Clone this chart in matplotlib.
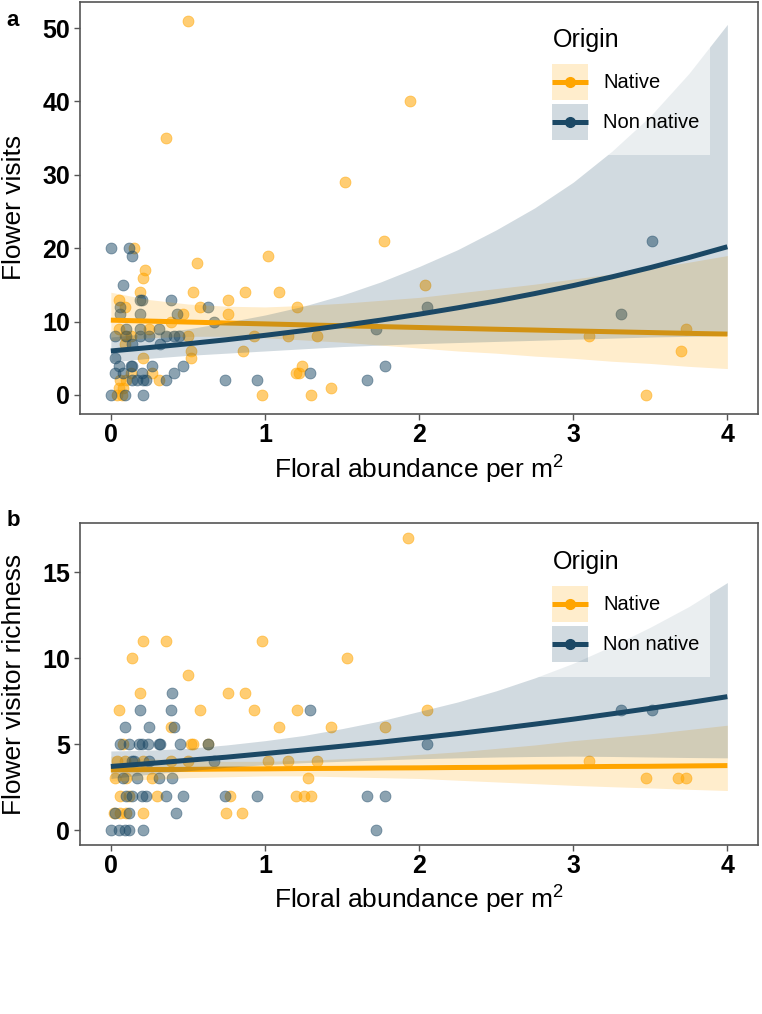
import matplotlib
matplotlib.use("Agg")
import matplotlib.pyplot as plt
from matplotlib.patches import Rectangle

plt.rcParams['font.family'] = ['Liberation Sans', 'DejaVu Sans']
plt.rcParams['mathtext.fontset'] = 'custom'
plt.rcParams['mathtext.rm'] = 'Liberation Sans'

# ---- panel a: flower visits ----
a_nat_x = [0.50, 0.36, 1.94, 1.52, 1.77, 0.15, 1.02, 0.56, 0.22, 0.21, 2.04,
           0.19, 0.53, 0.87, 1.09, 0.05, 0.76, 0.09, 0.58, 1.21, 0.47, 0.76,
           0.39, 0.05, 0.25, 3.73, 0.09, 0.13, 0.50, 0.93, 1.15, 1.34, 3.10,
           0.09, 0.52, 0.86, 3.70, 0.21, 0.52, 1.24, 0.13, 0.27, 1.20, 1.22,
           0.06, 0.10, 0.31, 0.05, 0.08, 1.43, 0.04, 0.07, 0.98, 1.30, 3.47]
a_nat_y = [51, 35, 40, 29, 21, 20, 19, 18, 17, 16, 15,
           14, 14, 14, 14, 13, 13, 12, 12, 12, 11, 11,
           10, 9, 9, 9, 8, 8, 8, 8, 8, 8, 8,
           7, 6, 6, 6, 5, 5, 4, 3, 3, 3, 3,
           2, 2, 2, 1, 1, 1, 0, 0, 0, 0, 0]
a_non_x = [0.00, 0.12, 0.14, 0.08, 3.51, 0.19, 0.20, 0.39, 0.06, 0.63, 2.05,
           0.06, 0.19, 0.43, 3.31, 0.67, 0.10, 0.19, 0.31, 1.72, 0.03, 0.10,
           0.19, 0.25, 0.36, 0.41, 0.44, 0.14, 0.32, 0.03, 0.05, 0.13, 0.14,
           0.27, 0.47, 1.78, 0.03, 0.08, 0.20, 0.41, 1.29, 0.14, 0.17, 0.21,
           0.23, 0.36, 0.74, 0.95, 1.66, 0.00, 0.09, 0.21]
a_non_y = [20, 20, 19, 15, 21, 13, 13, 13, 12, 12, 12,
           11, 11, 11, 11, 10, 9, 9, 9, 9, 8, 8,
           8, 8, 8, 8, 8, 7, 7, 5, 4, 4, 4,
           4, 4, 4, 3, 3, 3, 3, 3, 2, 2, 2,
           2, 2, 2, 2, 2, 0, 0, 0]

# fitted curves and confidence bands at x = 0, 0.25, ..., 4
fit_x = [0, 0.25, 0.5, 0.75, 1, 1.25, 1.5, 1.75, 2,
         2.25, 2.5, 2.75, 3, 3.25, 3.5, 3.75, 4]
a_nat_fit = [10.2, 10.07, 9.94, 9.81, 9.69, 9.56, 9.44, 9.32, 9.2,
             9.08, 8.96, 8.85, 8.73, 8.62, 8.51, 8.4, 8.3]
a_nat_hi = [14.0, 13.0, 12.4, 12.1, 12.0, 12.2, 12.5, 12.9, 13.3,
            13.9, 14.5, 15.1, 15.8, 16.5, 17.3, 18.1, 19.0]
a_nat_lo = [7.4, 7.8, 8.0, 8.0, 7.8, 7.5, 7.2, 6.8, 6.4,
            6.0, 5.7, 5.3, 5.0, 4.6, 4.3, 3.9, 3.6]
a_non_fit = [6.0, 6.47, 6.98, 7.53, 8.13, 8.77, 9.46, 10.2, 11.01,
             11.88, 12.81, 13.82, 14.91, 16.09, 17.36, 18.73, 20.2]
a_non_hi = [7.9, 8.4, 9.0, 9.9, 10.9, 12.1, 13.6, 15.4, 17.5,
            19.8, 22.5, 25.5, 29.0, 33.2, 38.0, 43.8, 50.5]
a_non_lo = [4.5, 5.0, 5.4, 5.7, 6.0, 6.3, 6.6, 6.8, 7.0,
            7.15, 7.3, 7.45, 7.6, 7.75, 7.9, 8.0, 8.1]

# ---- panel b: visitor richness ----
b_nat_x = [1.93, 0.21, 0.36, 0.98, 0.14, 1.53, 0.50, 0.19, 0.76, 0.87,
           0.05, 0.58, 0.93, 1.21, 2.05, 0.39, 1.09, 1.43, 1.78,
           0.08, 0.52, 0.53, 0.63, 0.04, 0.09, 0.21, 0.39, 0.50, 1.02, 1.15,
           1.34, 3.10, 0.03, 0.10, 0.27, 1.28, 3.47, 3.68, 3.73,
           0.06, 0.12, 0.30, 0.77, 1.20, 1.25, 1.30,
           0.02, 0.06, 0.10, 0.21, 0.75, 0.85]
b_nat_y = [17, 11, 11, 11, 10, 10, 9, 8, 8, 8,
           7, 7, 7, 7, 7, 6, 6, 6, 6,
           5, 5, 5, 5, 4, 4, 4, 4, 4, 4, 4,
           4, 4, 3, 3, 3, 3, 3, 3, 3,
           2, 2, 2, 2, 2, 2, 2,
           1, 1, 1, 1, 1, 1]
b_non_x = [0.40, 0.19, 0.39, 1.29, 3.31, 3.51, 0.09, 0.25, 0.41,
           0.06, 0.12, 0.18, 0.20, 0.24, 0.31, 0.32, 0.45, 0.63, 2.05,
           0.14, 0.15, 0.25, 0.67, 0.08, 0.17, 0.31, 0.40,
           0.10, 0.14, 0.20, 0.23, 0.36, 0.47, 0.74, 0.95, 1.66, 1.78,
           0.03, 0.12, 0.42, 0.00, 0.05, 0.09, 0.12, 0.21, 1.72]
b_non_y = [8, 7, 7, 7, 7, 7, 6, 6, 6,
           5, 5, 5, 5, 5, 5, 5, 5, 5, 5,
           4, 4, 4, 4, 3, 3, 3, 3,
           2, 2, 2, 2, 2, 2, 2, 2, 2, 2,
           1, 1, 1, 0, 0, 0, 0, 0, 0]

b_nat_fit = [3.50, 3.52, 3.53, 3.55, 3.56, 3.58, 3.59, 3.61, 3.62,
             3.64, 3.65, 3.67, 3.68, 3.70, 3.71, 3.73, 3.75]
b_nat_hi = [4.3, 4.15, 4.05, 4.0, 4.0, 4.05, 4.15, 4.25, 4.4,
            4.55, 4.75, 4.95, 5.2, 5.4, 5.6, 5.85, 6.1]
b_nat_lo = [2.85, 2.95, 3.05, 3.1, 3.15, 3.15, 3.1, 3.05, 3.0,
            2.9, 2.8, 2.7, 2.6, 2.52, 2.45, 2.37, 2.3]
b_non_fit = [3.7, 3.87, 4.06, 4.24, 4.45, 4.66, 4.88, 5.11, 5.36,
             5.61, 5.88, 6.16, 6.45, 6.76, 7.08, 7.41, 7.76]
b_non_hi = [4.6, 4.65, 4.75, 4.95, 5.2, 5.5, 5.9, 6.35, 6.9,
            7.45, 8.1, 8.85, 9.7, 10.7, 11.8, 13.0, 14.4]
b_non_lo = [3.0, 3.25, 3.45, 3.65, 3.8, 3.92, 4.0, 4.08, 4.15,
            4.2, 4.25, 4.28, 4.3, 4.28, 4.25, 4.22, 4.2]

origin_labels = ['Native', 'Non native']

NAT = '#FFA500'
NON = '#1B4865'
AXCOL = '#555555'
W, H = 762, 1014

fig = plt.figure(figsize=(W / 100, H / 100), dpi=100)
ax_a = fig.add_axes([0.105, 0.592, 0.890, 0.406])
ax_b = fig.add_axes([0.105, 0.167, 0.890, 0.317])
# overlay in pixel units for the legends
ov = fig.add_axes([0, 0, 1, 1], zorder=10)
ov.set_xlim(0, W)
ov.set_ylim(H, 0)
ov.axis('off')


def draw_panel(ax, top, nat_x, nat_y, non_x, non_y,
               nat_fit, nat_lo, nat_hi, non_fit, non_lo, non_hi):
    ax.scatter(nat_x, nat_y, s=62, color=NAT, alpha=0.55, linewidths=0.6, zorder=2)
    ax.scatter(non_x, non_y, s=62, color=NON, alpha=0.5, linewidths=0.6, zorder=2)
    ax.fill_between(fit_x, nat_lo, nat_hi, color=NAT, alpha=0.2, lw=0, zorder=3)
    ax.plot(fit_x, nat_fit, color=NAT, lw=3.6, zorder=3, solid_capstyle='butt')
    ax.fill_between(fit_x, non_lo, non_hi, color=NON, alpha=0.2, lw=0, zorder=3)
    ax.plot(fit_x, non_fit, color=NON, lw=3.6, zorder=3, solid_capstyle='butt')

    ax.set_xlim(-0.2, 4.2)
    ax.set_xticks([0, 1, 2, 3, 4])
    for sp in ax.spines.values():
        sp.set_color(AXCOL)
        sp.set_linewidth(1.2)
    ax.tick_params(length=4, width=1, color=AXCOL, labelsize=18, pad=3)
    for lab in ax.get_xticklabels() + ax.get_yticklabels():
        lab.set_fontweight('bold')
    ax.set_xlabel(r'Floral abundance per m$^{2}$', fontsize=19, labelpad=3)
    ax.yaxis.set_label_coords(-0.08, 0.5)

    # legend box, title and keys
    ov.add_patch(Rectangle((530, top + 12), 180, 143, facecolor='white',
                           alpha=0.55, lw=0))
    ov.text(553, top + 40, 'Origin', fontsize=18, va='center')
    for i, (lab, col) in enumerate(zip(origin_labels, [NAT, NON])):
        y0 = top + 64 + 40 * i
        ov.add_patch(Rectangle((552, y0), 36, 36, facecolor=col, alpha=0.2, lw=0))
        ov.plot([552, 588], [y0 + 18, y0 + 18], color=col, lw=3.6,
                solid_capstyle='butt')
        ov.plot([570], [y0 + 18], 'o', color=col, ms=7)
        ov.text(603, y0 + 19, lab, fontsize=14.5, va='center')


draw_panel(ax_a, 0, a_nat_x, a_nat_y, a_non_x, a_non_y,
           a_nat_fit, a_nat_lo, a_nat_hi, a_non_fit, a_non_lo, a_non_hi)
ax_a.set_ylim(-2.55, 53.55)
ax_a.set_yticks([0, 10, 20, 30, 40, 50])
ax_a.set_ylabel('Flower visits', fontsize=19)

draw_panel(ax_b, 522, b_nat_x, b_nat_y, b_non_x, b_non_y,
           b_nat_fit, b_nat_lo, b_nat_hi, b_non_fit, b_non_lo, b_non_hi)
ax_b.set_ylim(-0.85, 17.85)
ax_b.set_yticks([0, 5, 10, 15])
ax_b.set_ylabel('Flower visitor richness', fontsize=19)

fig.text(0.008, 0.99, 'a', fontsize=16, fontweight='bold', va='top')
fig.text(0.008, 0.497, 'b', fontsize=16, fontweight='bold', va='top')

fig.savefig('out.png', dpi=100)
